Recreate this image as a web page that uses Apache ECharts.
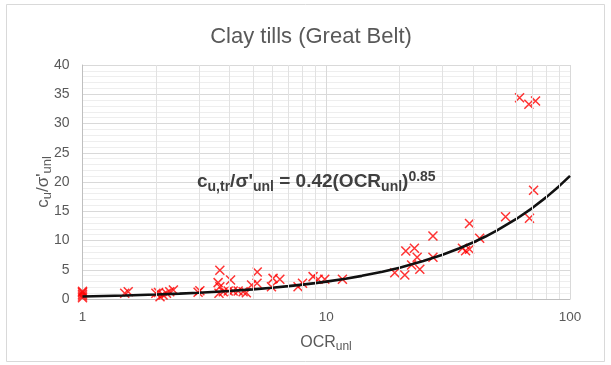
<!DOCTYPE html>
<html>
<head>
<meta charset="utf-8">
<script src="https://cdn.jsdelivr.net/npm/echarts@6/dist/echarts.min.js"></script>
<style>
  html, body { margin: 0; padding: 0; background: #ffffff; }
  #chart { width: 611px; height: 365px; }
</style>
</head>
<body>
<div id="chart"></div>
<script>
// Measured OCR (unloading) and normalised undrained strength cu/σ'unl
const ocrValues = [
  1, 1, 1, 1, 1,
  1.49, 1.54,
  2.0, 2.05, 2.08, 2.14, 2.21, 2.28, 2.36,
  2.98, 3.03,
  3.6, 3.63, 3.66, 3.66, 3.78,
  3.96, 4.05, 4.15, 4.35, 4.56, 4.7,
  4.94, 5.2, 5.21,
  5.96, 6.05, 6.45,
  7.66, 7.99, 8.83, 9.26, 9.86,
  11.65,
  19.1, 21.0, 21.2, 22.4, 23.0, 23.6, 24.2,
  27.4, 27.4,
  36.2, 37.3, 38.7, 38.7, 42.6,
  54.4, 68.2, 70.9,
  62.1, 67.8, 72.2
];
const cuRatioValues = [
  0.2, 0.5, 0.8, 1.1, 1.3,
  0.97, 1.25,
  0.97, 1.1, 0.4, 0.68, 0.97, 1.25, 1.54,
  1.14, 1.4,
  2.8, 0.97, 4.9, 2.1, 1.25,
  1.36, 3.25, 1.36, 1.36, 1.25, 1.08,
  2.39, 2.68, 4.6,
  2.1, 3.53, 3.36,
  2.1, 2.68, 3.82, 3.36, 3.36,
  3.36,
  4.5, 4.1, 8.2, 5.81, 8.66, 7.13, 5.07,
  10.77, 7.13,
  8.66, 8.26, 8.5, 12.9, 10.4,
  14.07, 13.8, 18.6,
  34.4, 33.3, 33.85
];

// Power-law fit shown on the chart: cu,tr/σ'unl = a · OCR^b
const TREND_COEF = 0.42;
const TREND_EXP = 0.85;
const trendOcr = [1, 1.5, 2, 2.5, 3, 4, 5, 6, 7, 8, 9, 10, 12, 14, 17, 20, 25, 30, 35, 40, 45, 50, 60, 70, 80, 90, 100];

// Axis ticks and log-decade gridlines
const xTicks = [1, 10, 100];
const yMin = 0, yMax = 40, yStep = 5;
const logGridValues = [2, 3, 4, 5, 6, 7, 8, 9, 20, 30, 40, 50, 60, 70, 80, 90];

const scatterData = ocrValues.map((x, i) => [x, cuRatioValues[i]]);
const trendData = trendOcr.map(x => [x, TREND_COEF * Math.pow(x, TREND_EXP)]);

const FONT = 'Liberation Sans, Arial, sans-serif';
const TEXT_GRAY = '#595959';

const chart = echarts.init(document.getElementById('chart'), null, { renderer: 'canvas' });

chart.setOption({
  animation: false,
  backgroundColor: '#ffffff',
  grid: { left: 82.5, right: 41, top: 65, bottom: 66, containLabel: false },
  xAxis: {
    type: 'log',
    logBase: 10,
    min: xTicks[0],
    max: xTicks[xTicks.length - 1],
    axisLine: { show: true, lineStyle: { color: '#bfbfbf', width: 1 } },
    axisTick: { show: false },
    axisLabel: { color: TEXT_GRAY, fontSize: 13.5, fontFamily: FONT, margin: 11 },
    splitLine: { show: true, lineStyle: { color: '#d9d9d9', width: 1 } }
  },
  yAxis: {
    type: 'value',
    min: yMin,
    max: yMax,
    interval: yStep,
    axisLine: { show: true, lineStyle: { color: '#bfbfbf', width: 1 } },
    axisTick: { show: false },
    axisLabel: { color: TEXT_GRAY, fontSize: 14, fontFamily: FONT, margin: 13 },
    splitLine: { show: true, lineStyle: { color: '#d9d9d9', width: 1 } },
    minorTick: { show: false, splitNumber: 5 },
    minorSplitLine: { show: true, lineStyle: { color: '#eeeeee', width: 1 } }
  },
  series: [
    {
      // log-decade gridlines at 2..9 and 20..90
      type: 'line',
      data: [],
      z: 1,
      silent: true,
      markLine: {
        silent: true,
        symbol: ['none', 'none'],
        label: { show: false },
        emphasis: { disabled: true },
        lineStyle: { color: '#e2e2e2', width: 1, type: 'solid' },
        data: logGridValues.map(v => ({ xAxis: v }))
      }
    },
    {
      type: 'scatter',
      data: scatterData,
      z: 3,
      symbol: 'path://M0,0L10,10M10,0L0,10',
      symbolSize: 9,
      itemStyle: { color: 'none', borderColor: '#ff0000', borderWidth: 1.5 },
      emphasis: { disabled: true }
    },
    {
      type: 'line',
      data: trendData,
      z: 4,
      showSymbol: false,
      smooth: false,
      lineStyle: { color: '#111111', width: 2.6 },
      emphasis: { disabled: true }
    }
  ],
  graphic: [
    {
      type: 'rect',
      shape: { x: 6.5, y: 4.5, width: 598, height: 357 },
      style: { fill: 'none', stroke: '#d9d9d9', lineWidth: 1 },
      silent: true,
      z: -10
    },
    {
      type: 'text',
      x: 311, y: 37,
      style: {
        text: 'Clay tills (Great Belt)',
        fill: TEXT_GRAY,
        font: '22px ' + FONT,
        align: 'center',
        verticalAlign: 'middle'
      }
    },
    {
      type: 'text',
      x: 326, y: 343,
      style: {
        text: '{m|OCR}{s|unl}',
        align: 'center',
        verticalAlign: 'middle',
        rich: {
          m: { fill: TEXT_GRAY, fontSize: 16, fontFamily: FONT, lineHeight: 20 },
          s: { fill: TEXT_GRAY, fontSize: 12, fontFamily: FONT, lineHeight: 12, verticalAlign: 'bottom' }
        }
      }
    },
    {
      type: 'text',
      x: 43, y: 182,
      rotation: Math.PI / 2,
      style: {
        text: "{m|c}{s|u}{m|/σ'}{s|unl}",
        align: 'center',
        verticalAlign: 'middle',
        rich: {
          m: { fill: TEXT_GRAY, fontSize: 17, fontFamily: FONT, lineHeight: 21 },
          s: { fill: TEXT_GRAY, fontSize: 13, fontFamily: FONT, lineHeight: 12, verticalAlign: 'bottom' }
        }
      }
    },
    {
      type: 'text',
      x: 197, y: 182,
      z: 10,
      style: {
        text: "{m|c}{s|u,tr}{m|/σ'}{s|unl}{m| = " + TREND_COEF + "(OCR}{s|unl}{m|)}{p|" + TREND_EXP + "}",
        align: 'left',
        verticalAlign: 'middle',
        rich: {
          m: { fill: '#404040', fontSize: 19, fontWeight: 'bold', fontFamily: FONT, lineHeight: 24 },
          s: { fill: '#404040', fontSize: 14, fontWeight: 'bold', fontFamily: FONT, lineHeight: 13, verticalAlign: 'bottom' },
          p: { fill: '#404040', fontSize: 14, fontWeight: 'bold', fontFamily: FONT, lineHeight: 13, verticalAlign: 'top' }
        }
      }
    }
  ]
});
</script>
</body>
</html>
